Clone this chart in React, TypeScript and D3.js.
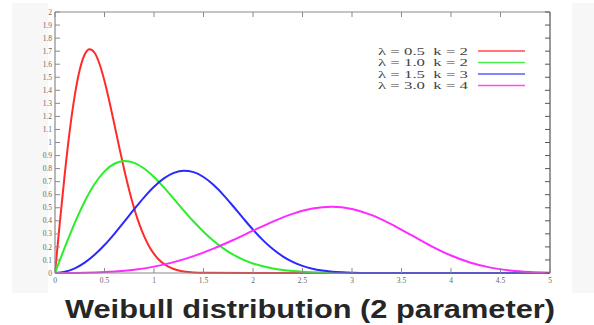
import React from "react";
import * as d3 from "d3";

// x positions and Weibull pdf values
const xs1 = [0, 0.05, 0.1, 0.15, 0.2, 0.25, 0.3, 0.35, 0.4, 0.45, 0.5, 0.55, 0.6, 0.65, 0.7, 0.75, 0.8, 0.85, 0.9, 0.95, 1.0, 1.05, 1.1, 1.15, 1.2, 1.25, 1.3, 1.35, 1.4, 1.5, 2, 3, 4, 5];
const ys1 = [0, 0.396, 0.7686, 1.0967, 1.3634, 1.5576, 1.6744, 1.7154, 1.6873, 1.6015, 1.4715, 1.3121, 1.1373, 0.9595, 0.7888, 0.6324, 0.4947, 0.3779, 0.282, 0.2056, 0.1465, 0.1021, 0.0696, 0.0464, 0.0303, 0.0193, 0.0121, 0.0074, 0.0044, 0.0015, 0, 0, 0, 0];

const xs2 = [0, 0.1, 0.2, 0.3, 0.4, 0.5, 0.6, 0.7, 0.8, 0.9, 1.0, 1.1, 1.2, 1.3, 1.4, 1.5, 1.6, 1.7, 1.8, 1.9, 2.0, 2.1, 2.2, 2.3, 2.4, 2.5, 2.6, 2.7, 2.8, 3.0, 3.5, 4, 5];
const ys2 = [0, 0.198, 0.3843, 0.5484, 0.6817, 0.7788, 0.8372, 0.8577, 0.8437, 0.8007, 0.7358, 0.656, 0.5686, 0.4798, 0.3944, 0.3162, 0.2474, 0.189, 0.141, 0.1028, 0.0733, 0.0511, 0.0348, 0.0232, 0.0151, 0.0097, 0.006, 0.0037, 0.0022, 0.0007, 0, 0, 0];

const xs3 = [0, 0.1, 0.2, 0.3, 0.4, 0.5, 0.6, 0.7, 0.8, 0.9, 1.0, 1.1, 1.2, 1.3, 1.4, 1.5, 1.6, 1.7, 1.8, 1.9, 2.0, 2.1, 2.2, 2.3, 2.4, 2.5, 2.6, 2.7, 2.8, 2.9, 3.0, 3.2, 3.5, 4, 5];
const ys3 = [0, 0.0089, 0.0355, 0.0794, 0.1396, 0.2141, 0.3002, 0.3935, 0.4888, 0.5801, 0.661, 0.7251, 0.7671, 0.7835, 0.7727, 0.7358, 0.6761, 0.5992, 0.5116, 0.4205, 0.3322, 0.2521, 0.1835, 0.1279, 0.0852, 0.0542, 0.0329, 0.019, 0.0104, 0.0054, 0.0027, 0.0006, 0, 0, 0];

const xs4 = [0, 0.2, 0.4, 0.6, 0.8, 1.0, 1.2, 1.4, 1.6, 1.8, 2.0, 2.2, 2.4, 2.6, 2.8, 3.0, 3.2, 3.4, 3.6, 3.8, 4.0, 4.2, 4.4, 4.6, 4.8, 5.0];
const ys4 = [0, 0.0004, 0.0032, 0.0106, 0.0252, 0.0488, 0.0832, 0.1292, 0.1866, 0.253, 0.3242, 0.3938, 0.4532, 0.4937, 0.5076, 0.4905, 0.4434, 0.3728, 0.2897, 0.2065, 0.134, 0.0785, 0.0412, 0.0191, 0.0078, 0.0028];

const seriesLabels = ["λ = 0.5  k = 2", "λ = 1.0  k = 2", "λ = 1.5  k = 3", "λ = 3.0  k = 4"];
const seriesColors = ["#ff2a2a", "#2aee2a", "#2a2aff", "#ff2aff"];
const legendLineColors = ["#ff4a4a", "#4aee4a", "#5a5aff", "#ff4aff"];

const xTicks = [0, 0.5, 1, 1.5, 2, 2.5, 3, 3.5, 4, 4.5, 5];
const yTicks = [0, 0.1, 0.2, 0.3, 0.4, 0.5, 0.6, 0.7, 0.8, 0.9, 1, 1.1, 1.2, 1.3, 1.4, 1.5, 1.6, 1.7, 1.8, 1.9, 2];

const title = "Weibull distribution (2 parameter)";

export default function App() {
  const W = 594, H = 325;
  const left = 55, right = 550, top = 12, bottom = 273;
  const x = d3.scaleLinear().domain([0, 5]).range([left, right]);
  const y = d3.scaleLinear().domain([0, 2]).range([bottom, top]);
  const line = d3.line<[number, number]>().x(d => x(d[0])).y(d => y(d[1])).curve(d3.curveMonotoneX);
  const all = [[xs1, ys1], [xs2, ys2], [xs3, ys3], [xs4, ys4]];
  const axisColor = "#8a8a8a";
  const labelColor = "#666";
  const fmt = (v: number) => String(v);
  const rowH = 11.5;
  return (
    <svg width={W} height={H} style={{ position: "absolute", left: 0, top: 0 }}>
      <rect x={0} y={0} width={W} height={H} fill="#fff" />
      <rect x={12} y={3} width={582} height={290} fill="#f7f7f7" />
      <rect x={48} y={3} width={524} height={290} fill="#fff" />
      <defs>
        <clipPath id="clip"><rect x={left} y={top - 2} width={right - left + 1} height={bottom - top + 3} /></clipPath>
      </defs>
      <g clipPath="url(#clip)">
        {all.map(([xa, ya], i) => (
          <path key={i} d={line(xa.map((v, j) => [v, ya[j]] as [number, number])) || ""} fill="none" stroke={seriesColors[i]} strokeWidth={2} />
        ))}
      </g>
      {/* frame */}
      <line x1={left} x2={right} y1={bottom} y2={bottom} stroke={axisColor} strokeWidth={1.2} />
      <line x1={left} x2={right} y1={top} y2={top} stroke={axisColor} strokeWidth={1.2} />
      <line x1={left} x2={left} y1={top} y2={bottom} stroke={axisColor} strokeWidth={1.2} />
      <line x1={right} x2={right} y1={top} y2={bottom} stroke="#555" strokeWidth={1.2} />
      {yTicks.map((t, i) => (
        <g key={"y" + i}>
          <line x1={left} x2={left + 5} y1={y(t)} y2={y(t)} stroke={axisColor} strokeWidth={1} />
          <line x1={right - 5} x2={right} y1={y(t)} y2={y(t)} stroke="#555" strokeWidth={1} />
          <text x={left - 3} y={y(t)} dy="0.35em" textAnchor="end" fontFamily="Liberation Serif, serif" fontSize={7.5} fill={labelColor}>{fmt(t)}</text>
        </g>
      ))}
      {xTicks.map((t, i) => (
        <g key={"x" + i}>
          <line x1={x(t)} x2={x(t)} y1={bottom} y2={bottom - 5} stroke={axisColor} strokeWidth={1} />
          <line x1={x(t)} x2={x(t)} y1={top} y2={top + 5} stroke={axisColor} strokeWidth={1} />
          <text x={x(t)} y={bottom + 10} textAnchor="middle" fontFamily="Liberation Serif, serif" fontSize={7.5} fill={labelColor}>{fmt(t)}</text>
        </g>
      ))}
      {/* legend */}
      {seriesLabels.map((s, i) => (
        <g key={"l" + i}>
          <text x={378} y={54.5 + i * rowH} fontFamily="Liberation Serif, serif" fontSize={10.5} fill="#444" textLength={90} lengthAdjust="spacingAndGlyphs" style={{ whiteSpace: "pre" }}>{s}</text>
          <line x1={478} x2={525} y1={51 + i * rowH} y2={51 + i * rowH} stroke={legendLineColors[i]} strokeWidth={1.4} />
        </g>
      ))}
      <text x={310} y={318} textAnchor="middle" fontFamily="Liberation Sans, Arial, sans-serif" fontWeight="bold" fontSize={25} fill="#262626" textLength={490} lengthAdjust="spacingAndGlyphs">{title}</text>
    </svg>
  );
}
